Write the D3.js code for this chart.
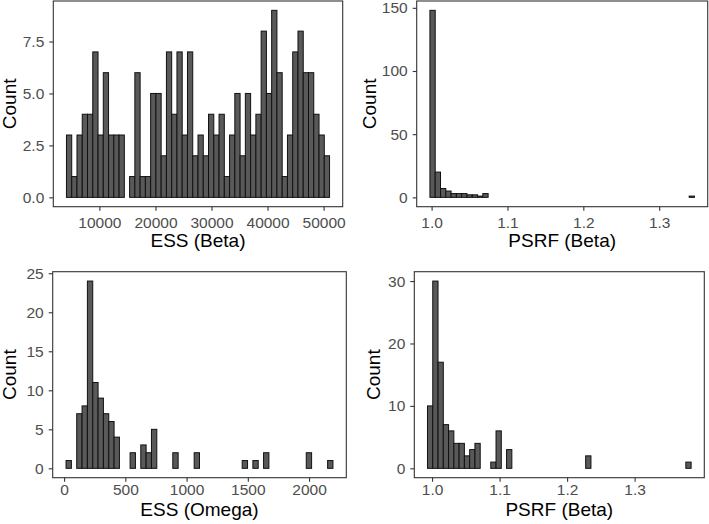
<!DOCTYPE html>
<html>
<head>
<meta charset="utf-8">
<script src="https://cdn.jsdelivr.net/npm/d3@7"></script>
<style>
  body { margin: 0; background: #fff; }
  svg { display: block; font-family: "Liberation Sans", Arial, sans-serif; }
  .tick-label { fill: #4d4d4d; font-size: 15.5px; }
  .title { fill: #000; font-size: 19px; }
</style>
</head>
<body>
<script>
// histogram counts, 50 bins each
const essBetaCounts = [3, 1, 3, 4, 4, 7, 3, 6, 3, 3, 3, 0, 1, 6, 1, 1, 5, 5, 2, 7,
  4, 7, 3, 7, 2, 3, 2, 4, 3, 4, 1, 3, 5, 2, 5, 3, 4, 8, 5, 9,
  6, 1, 3, 7, 8, 6, 6, 4, 3, 2];
const psrfBetaCounts = [148, 20, 7, 5, 3, 3, 3, 2, 2, 1, 3, 0, 0, 0, 0, 0, 0, 0, 0, 0,
  0, 0, 0, 0, 0, 0, 0, 0, 0, 0, 0, 0, 0, 0, 0, 0, 0, 0, 0, 0,
  0, 0, 0, 0, 0, 0, 0, 0, 0, 1];
const essOmegaCounts = [1, 0, 7, 8, 24, 11, 9, 7, 6, 4, 0, 0, 2, 0, 3, 2, 5, 0, 0, 0,
  2, 0, 0, 0, 2, 0, 0, 0, 0, 0, 0, 0, 0, 1, 0, 1, 0, 2, 0, 0,
  0, 0, 0, 0, 0, 2, 0, 0, 0, 1];
const psrfBeta2Counts = [10, 30, 17, 7, 6, 4, 4, 2, 3, 4, 0, 0, 1, 6, 0, 3, 0, 0, 0, 0,
  0, 0, 0, 0, 0, 0, 0, 0, 0, 0, 2, 0, 0, 0, 0, 0, 0, 0, 0, 0,
  0, 0, 0, 0, 0, 0, 0, 0, 0, 1];

// outer edges of the binned range
const essBetaRange = [4124, 51059];
const psrfBetaRange = [0.9978, 1.3465];
const essOmegaRange = [16, 2195];
const psrfBeta2Range = [0.9932, 1.3837];

// tick values
const essBetaXTicks = [10000, 20000, 30000, 40000, 50000];
const essBetaYTicks = [0, 2.5, 5, 7.5];
const psrfXTicks = [1.0, 1.1, 1.2, 1.3];
const psrfBetaYTicks = [0, 50, 100, 150];
const essOmegaXTicks = [0, 500, 1000, 1500, 2000];
const essOmegaYTicks = [0, 5, 10, 15, 20, 25];
const psrfBeta2YTicks = [0, 10, 20, 30];

const svg = d3.select('body').append('svg')
  .attr('width', 709)
  .attr('height', 524);

function styleAxis (axisG) {
  axisG.select('.domain').remove();
  axisG.selectAll('line').attr('stroke', '#333').attr('stroke-width', 1.1);
  axisG.selectAll('text')
    .attr('class', 'tick-label')
    .attr('fill', null);
  axisG.attr('font-family', null).attr('font-size', null);
}

function drawHist (cfg) {
  const counts = cfg.counts;
  const n = counts.length;
  const w = (cfg.range[1] - cfg.range[0]) / n;
  const xPad = (cfg.range[1] - cfg.range[0]) * 0.05;
  const yMax = d3.max(counts);

  const x = d3.scaleLinear()
    .domain([cfg.range[0] - xPad, cfg.range[1] + xPad])
    .range([cfg.left, cfg.right]);
  const y = d3.scaleLinear()
    .domain([-yMax * 0.05, yMax * 1.05])
    .range([cfg.bottom, cfg.top]);

  const bins = counts.map((c, i) => ({
    x0: cfg.range[0] + i * w,
    x1: cfg.range[0] + (i + 1) * w,
    count: c
  }));

  const g = svg.append('g').attr('class', 'panel');

  g.selectAll('rect.bar')
    .data(bins)
    .enter()
    .append('rect')
    .attr('class', 'bar')
    .attr('x', d => x(d.x0))
    .attr('width', d => x(d.x1) - x(d.x0))
    .attr('y', d => y(d.count))
    .attr('height', d => y(0) - y(d.count))
    .attr('fill', '#595959')
    .attr('stroke', '#111')
    .attr('stroke-width', 1);

  // panel border
  g.append('rect')
    .attr('x', cfg.left)
    .attr('y', cfg.top)
    .attr('width', cfg.right - cfg.left)
    .attr('height', cfg.bottom - cfg.top)
    .attr('fill', 'none')
    .attr('stroke', '#333')
    .attr('stroke-width', 1.1);

  const xg = g.append('g')
    .attr('transform', `translate(0, ${cfg.bottom})`)
    .call(d3.axisBottom(x)
      .tickValues(cfg.xTicks)
      .tickSize(4)
      .tickPadding(cfg.xTickPad)
      .tickFormat(cfg.xFormat));
  styleAxis(xg);

  const yg = g.append('g')
    .attr('transform', `translate(${cfg.left}, 0)`)
    .call(d3.axisLeft(y)
      .tickValues(cfg.yTicks)
      .tickSize(4)
      .tickPadding(5)
      .tickFormat(cfg.yFormat));
  styleAxis(yg);

  g.append('text')
    .attr('class', 'title')
    .attr('text-anchor', 'middle')
    .attr('x', (cfg.left + cfg.right) / 2)
    .attr('y', cfg.bottom + cfg.titleDy)
    .text(cfg.xLabel);

  g.append('text')
    .attr('class', 'title')
    .attr('text-anchor', 'middle')
    .attr('transform', `translate(${cfg.countX}, ${(cfg.top + cfg.bottom) / 2}) rotate(-90)`)
    .text('Count');
}

drawHist({
  counts: essBetaCounts, range: essBetaRange,
  xTicks: essBetaXTicks, yTicks: essBetaYTicks,
  xFormat: d3.format('d'), yFormat: d3.format('.1f'),
  left: 53.3, right: 342.7, top: 1, bottom: 206.7, countX: 15.5,
  xTickPad: 6, titleDy: 40, xLabel: 'ESS (Beta)'
});

drawHist({
  counts: psrfBetaCounts, range: psrfBetaRange,
  xTicks: psrfXTicks, yTicks: psrfBetaYTicks,
  xFormat: d3.format('.1f'), yFormat: d3.format('d'),
  left: 416.7, right: 707.7, top: 1, bottom: 206.7, countX: 375.5,
  xTickPad: 6, titleDy: 40, xLabel: 'PSRF (Beta)'
});

drawHist({
  counts: essOmegaCounts, range: essOmegaRange,
  xTicks: essOmegaXTicks, yTicks: essOmegaYTicks,
  xFormat: d3.format('d'), yFormat: d3.format('d'),
  left: 52.7, right: 346.3, top: 271.7, bottom: 477.7, countX: 15.5,
  xTickPad: 2, titleDy: 38, xLabel: 'ESS (Omega)'
});

drawHist({
  counts: psrfBeta2Counts, range: psrfBeta2Range,
  xTicks: psrfXTicks, yTicks: psrfBeta2YTicks,
  xFormat: d3.format('.1f'), yFormat: d3.format('d'),
  left: 414.3, right: 704.3, top: 271.7, bottom: 477.7, countX: 380,
  xTickPad: 2, titleDy: 38, xLabel: 'PSRF (Beta)'
});
</script>
</body>
</html>
